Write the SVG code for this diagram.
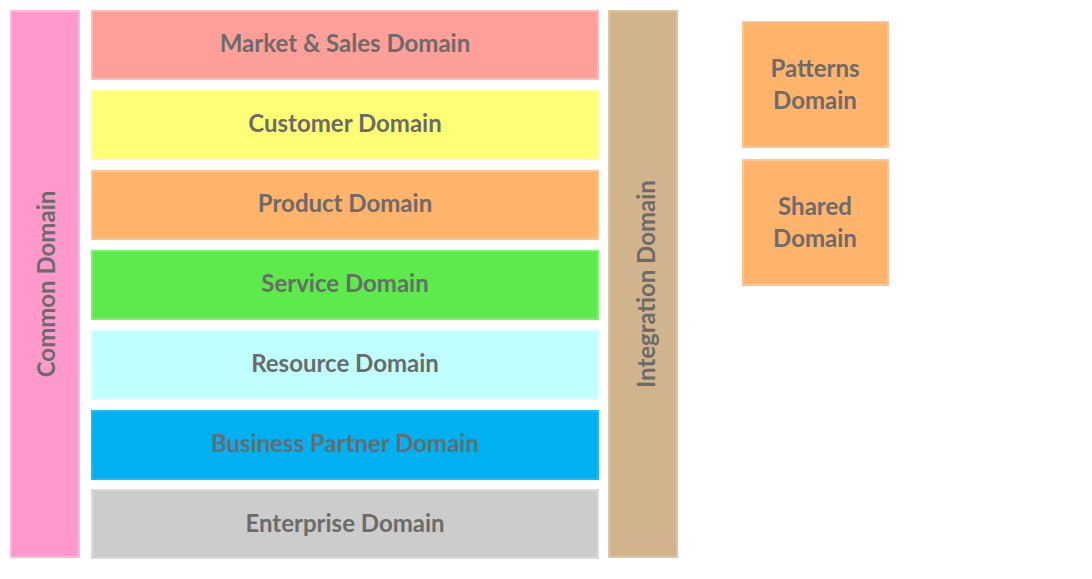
<svg xmlns="http://www.w3.org/2000/svg" width="1092" height="579" viewBox="0 0 1092 579">
<style>
text{font-family:Lato,"Open Sans",sans-serif;font-weight:bold;font-size:24px;fill:#6b6b6b;text-anchor:middle;dominant-baseline:central}
rect{stroke-width:2}
</style>
<rect width="1092" height="579" fill="#fff"/>
<g id="common"><rect x="11" y="11" width="68" height="546" fill="#ff99cc" stroke="#ffb8dc"/><text transform="translate(45 284) rotate(-90)">Common Domain</text></g>
<g id="market"><rect x="92" y="11" width="506" height="68" fill="#ff9f99" stroke="#ffbcb8"/><text x="345" y="42">Market &amp; Sales Domain</text></g>
<g id="customer"><rect x="92" y="91" width="506" height="68" fill="#ffff77" stroke="#ffff99"/><text x="345" y="122">Customer Domain</text></g>
<g id="product"><rect x="92" y="171" width="506" height="68" fill="#ffb36b" stroke="#ffc48f"/><text x="345" y="202">Product Domain</text></g>
<g id="service"><rect x="92" y="251" width="506" height="68" fill="#5deb4c" stroke="#7ef070"/><text x="345" y="282">Service Domain</text></g>
<g id="resource"><rect x="92" y="331" width="506" height="68" fill="#c1ffff" stroke="#d4ffff"/><text x="345" y="362">Resource Domain</text></g>
<g id="partner"><rect x="92" y="411" width="506" height="68" fill="#00b0f0" stroke="#1abaf2"/><text x="345" y="442">Business Partner Domain</text></g>
<g id="enterprise"><rect x="92" y="490" width="506" height="68" fill="#cccccc" stroke="#dcdcdc"/><text x="345" y="522">Enterprise Domain</text></g>
<g id="integration"><rect x="609" y="11" width="68" height="546" fill="#d2b48c" stroke="#dcc4a4"/><text transform="translate(645 284) rotate(-90)">Integration Domain</text></g>
<g id="patterns"><rect x="743" y="22" width="145" height="125" fill="#ffb36b" stroke="#ffc48f"/><text x="815" y="67">Patterns</text><text x="815" y="99">Domain</text></g>
<g id="shared"><rect x="743" y="160" width="145" height="125" fill="#ffb36b" stroke="#ffc48f"/><text x="815" y="205">Shared</text><text x="815" y="237">Domain</text></g>
<g id="connectors"></g>
</svg>
